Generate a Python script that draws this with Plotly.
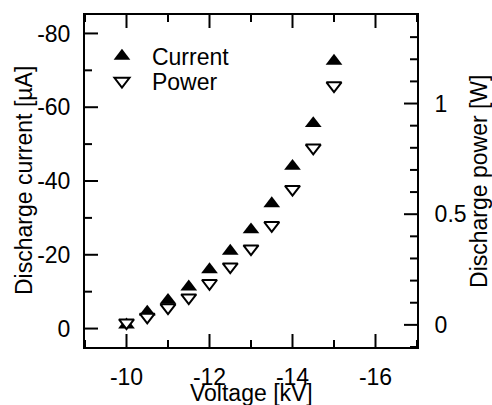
import plotly.graph_objects as go

voltage_kv = [-10, -10.5, -11, -11.5, -12, -12.5, -13, -13.5, -14, -14.5, -15]
current_ua = [-1.0, -4.5, -7.7, -11.3, -16.0, -21.0, -26.8, -33.9, -44.0, -55.6, -72.5]
power_w = [0.01, 0.036, 0.078, 0.123, 0.188, 0.263, 0.344, 0.45, 0.613, 0.80, 1.081]

x_major = [-10, -12, -14, -16]
x_ticktext = ["-10", "-12", "-14", "-16"]
x_minor = [-9, -11, -13, -15, -17]
y_major = [0, -20, -40, -60, -80]
y_ticktext = ["0", "-20", "-40", "-60", "-80"]
y_minor = [-10, -30, -50, -70]
y2_major = [0, 0.5, 1]
y2_ticktext = ["0", "0.5", "1"]
y2_minor = [-0.1, 0.1, 0.2, 0.3, 0.4, 0.6, 0.7, 0.8, 0.9, 1.1, 1.2, 1.3]

X_RANGE = [-9, -17]
Y_RANGE = [5, -85]
Y2_RANGE = [-0.1, 1.4]

FONT = "Liberation Sans, Arial, sans-serif"
FS = 23
MAJOR_LEN = 13
MINOR_LEN = 7

fig = go.Figure()
fig.add_trace(go.Scatter(
    x=voltage_kv, y=current_ua, mode="markers", name="Current",
    marker=dict(symbol="triangle-up", size=14.5, color="black"),
    yaxis="y", legend="legend",
))
fig.add_trace(go.Scatter(
    x=voltage_kv, y=power_w, mode="markers", name="Power",
    marker=dict(symbol="triangle-down", size=13, color="white",
                line=dict(color="black", width=2)),
    yaxis="y2", legend="legend2",
))

# inside tick marks as thin filled pixel-sized rectangles anchored at tick values
shapes = []
for vals, ln in ((x_major, MAJOR_LEN), (x_minor, MINOR_LEN)):
    for v in vals:
        for anchor, sgn in ((0, 1), (1, -1)):
            shapes.append(dict(type="rect", xref="x", xsizemode="pixel", xanchor=v,
                               x0=-1, x1=1, yref="paper", ysizemode="pixel",
                               yanchor=anchor, y0=0, y1=sgn * ln,
                               fillcolor="black", line=dict(width=0), layer="above"))
for vals, ln in ((y_major, MAJOR_LEN), (y_minor, MINOR_LEN)):
    for v in vals:
        shapes.append(dict(type="rect", yref="y", ysizemode="pixel", yanchor=v,
                           y0=-1, y1=1, xref="paper", xsizemode="pixel",
                           xanchor=0, x0=0, x1=ln,
                           fillcolor="black", line=dict(width=0), layer="above"))
for vals, ln in ((y2_major, MAJOR_LEN), (y2_minor, MINOR_LEN)):
    for v in vals:
        shapes.append(dict(type="rect", yref="y2", ysizemode="pixel", yanchor=v,
                           y0=-1, y1=1, xref="paper", xsizemode="pixel",
                           xanchor=1, x0=0, x1=-ln,
                           fillcolor="black", line=dict(width=0), layer="above"))

axis_common = dict(
    showline=True, linewidth=2, linecolor="black",
    ticks="", showgrid=False, zeroline=False, automargin=False,
    tickfont=dict(family=FONT, size=FS, color="black"),
)
title_font = dict(family=FONT, size=FS, color="black")

fig.update_layout(
    width=492, height=405,
    margin=dict(l=85, r=75, t=15, b=58),
    paper_bgcolor="white", plot_bgcolor="white",
    font=dict(family=FONT, size=FS, color="black"),
    showlegend=True,
    shapes=shapes,
    xaxis=dict(
        range=X_RANGE, tickmode="array", tickvals=x_major, ticktext=x_ticktext,
        mirror=True, ticklabelstandoff=8,
        **axis_common,
    ),
    yaxis=dict(
        range=Y_RANGE, tickmode="array", tickvals=y_major, ticktext=y_ticktext,
        ticklabelstandoff=8,
        **axis_common,
    ),
    yaxis2=dict(
        overlaying="y", side="right",
        range=Y2_RANGE, tickmode="array", tickvals=y2_major, ticktext=y2_ticktext,
        ticklabelstandoff=11,
        **axis_common,
    ),
    annotations=[
        dict(text="Voltage [kV]", xref="paper", yref="paper", x=0.5, y=-0.1386,
             xanchor="center", yanchor="middle", showarrow=False, font=title_font),
        dict(text="Discharge current [µA]", xref="paper", yref="paper", x=-0.1837, y=0.5,
             xanchor="center", yanchor="middle", textangle=-90, showarrow=False, font=title_font),
        dict(text="Discharge power [W]", xref="paper", yref="paper", x=1.1867, y=0.5,
             xanchor="center", yanchor="middle", textangle=-90, showarrow=False, font=title_font),
    ],
    legend=dict(x=0.021, y=0.876, xanchor="left", yanchor="middle",
                bgcolor="rgba(0,0,0,0)", borderwidth=0, itemwidth=50,
                font=dict(family=FONT, size=FS, color="black")),
    legend2=dict(x=0.021, y=0.801, xanchor="left", yanchor="middle",
                 bgcolor="rgba(0,0,0,0)", borderwidth=0, itemwidth=50,
                 font=dict(family=FONT, size=FS, color="black")),
)

fig.write_html("out.html")
